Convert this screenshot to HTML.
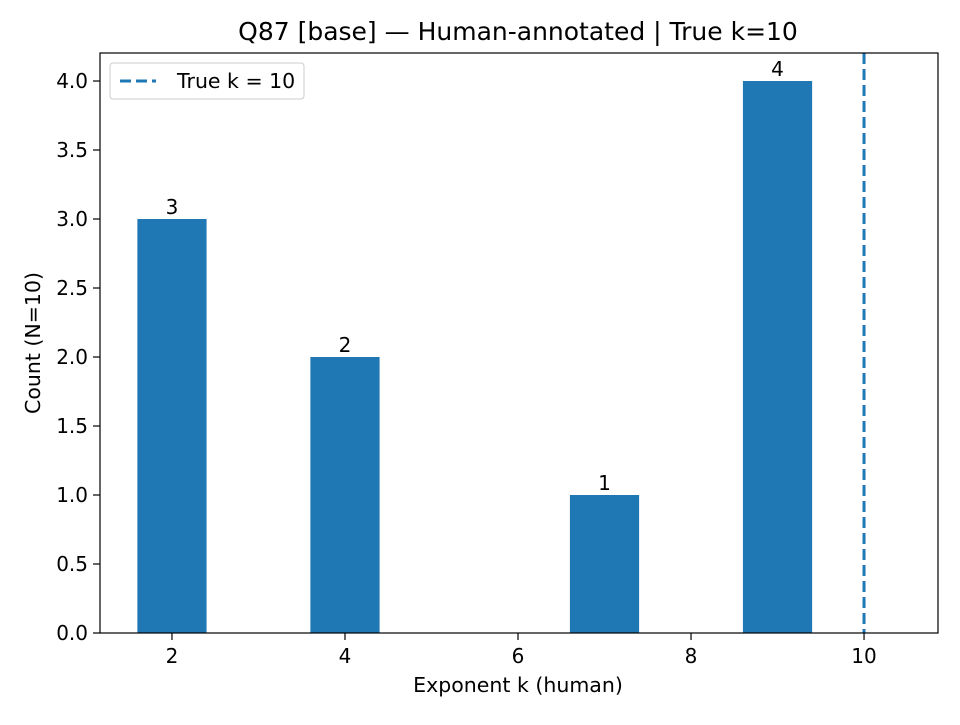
<!DOCTYPE html>
<html><head><meta charset="utf-8"><style>
body{margin:0;background:#fff}
svg text{font-family:"DejaVu Sans","Liberation Sans",sans-serif;fill:#000}
</style></head><body>
<svg id="chart" width="960" height="720" xmlns="http://www.w3.org/2000/svg"></svg>
<script>
const categories=[2,4,7,9];
const counts=[3,2,1,4];
const xTicks=[2,4,6,8,10];
const yTicks=[0,0.5,1.0,1.5,2.0,2.5,3.0,3.5,4.0];
const trueK=10;
const L=100,R=938,T=53,B=633;
const xmin=1.168,xmax=10.855,ymin=0,ymax=4.203;
const xs=v=>L+(v-xmin)/(xmax-xmin)*(R-L);
const ys=v=>B-(v-ymin)/(ymax-ymin)*(B-T);
const svg=document.getElementById('chart');
const NS='http://www.w3.org/2000/svg';
function mk(tag,attrs,text){const e=document.createElementNS(NS,tag);for(const k in attrs)e.setAttribute(k,attrs[k]);if(text!==undefined)e.textContent=text;svg.appendChild(e);return e;}
categories.forEach((c,i)=>{
 const x0=xs(c-0.4),x1=xs(c+0.4);
 const r=mk('rect',{x:x0,y:ys(counts[i]),width:x1-x0,height:ys(0)-ys(counts[i]),fill:'#1f77b4'});
 
 
 const t=mk('text',{x:xs(c),y:ys(counts[i])-5,'text-anchor':'middle','font-size':'20'},String(counts[i]));
 
 
});
const vl=mk('line',{x1:xs(trueK),x2:xs(trueK),y1:T,y2:B,stroke:'#1f77b4','stroke-width':3,'stroke-dasharray':'11,5'});


const fr=mk('rect',{x:L,y:T,width:R-L,height:B-T,fill:'none',stroke:'#000','stroke-width':1.2});


xTicks.forEach(v=>{
 mk('line',{x1:xs(v),x2:xs(v),y1:B,y2:B+7,stroke:'#000','stroke-width':1.2});
 const t=mk('text',{x:xs(v),y:B+30,'text-anchor':'middle','font-size':'20'},String(v));
 
 
});
yTicks.forEach(v=>{
 mk('line',{x1:L-7,x2:L,y1:ys(v),y2:ys(v),stroke:'#000','stroke-width':1.2});
 const t=mk('text',{x:L-12,y:ys(v)+7,'text-anchor':'end','font-size':'20'},v.toFixed(1));
 
 
});
</script>
<svg width="960" height="720" style="position:absolute;left:0;top:0" xmlns="http://www.w3.org/2000/svg">
<text x="518" y="40" text-anchor="middle" font-size="25">Q87 [base] — Human-annotated | True k=10</text>
<text x="518" y="692" text-anchor="middle" font-size="20.5">Exponent k (human)</text>
<text transform="translate(40,343) rotate(-90)" text-anchor="middle" font-size="20.5">Count (N=10)</text>
<g>
<rect x="110" y="63" width="194" height="36" rx="3" fill="#fff" fill-opacity="0.8" stroke="#ccc"/>
<line x1="120" x2="156" y1="81" y2="81" stroke="#1f77b4" stroke-width="3" stroke-dasharray="11,5"/>
<text x="177" y="88" font-size="20.5">True k = 10</text>
</g>
</svg>
</body></html>
